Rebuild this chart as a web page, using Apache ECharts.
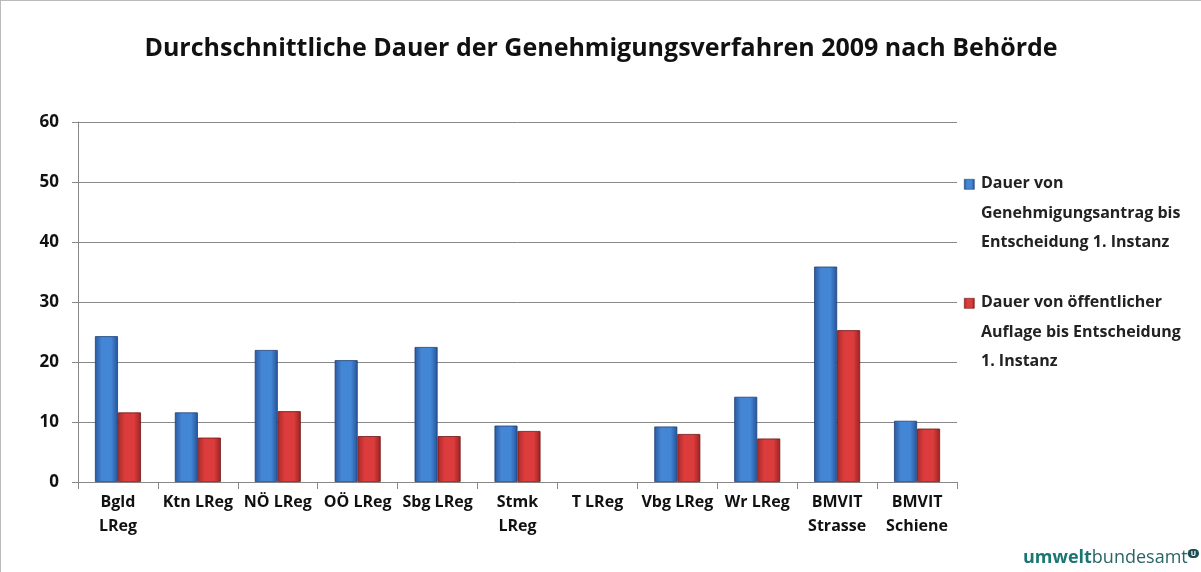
<!DOCTYPE html>
<html>
<head>
<meta charset="utf-8">
<script src="https://cdn.jsdelivr.net/npm/echarts@6/dist/echarts.min.js"></script>
<style>
  html, body { margin: 0; padding: 0; background: #fff; }
  #chart { width: 1201px; height: 572px; box-sizing: border-box; border-top: 1px solid #bbb; border-left: 1px solid #bbb; }
</style>
</head>
<body>
<div id="chart"></div>
<script>
// categories (Behörden)
var behoerden = ['Bgld\nLReg', 'Ktn LReg', 'NÖ LReg', 'OÖ LReg', 'Sbg LReg', 'Stmk\nLReg',
  'T LReg', 'Vbg LReg', 'Wr LReg', 'BMVIT\nStrasse', 'BMVIT\nSchiene'];
// Dauer von Genehmigungsantrag bis Entscheidung 1. Instanz
var dauerAntrag = [24.3, 11.6, 22.0, 20.3, 22.5, 9.4, null, 9.25, 14.2, 35.9, 10.2];
// Dauer von öffentlicher Auflage bis Entscheidung 1. Instanz
var dauerAuflage = [11.6, 7.4, 11.8, 7.65, 7.65, 8.5, null, 8.0, 7.25, 25.3, 8.9];
var seriesNames = ['Dauer von Genehmigungsantrag bis Entscheidung 1. Instanz',
  'Dauer von öffentlicher Auflage bis Entscheidung 1. Instanz'];
var legendText = ['Dauer von\nGenehmigungsantrag bis\nEntscheidung 1. Instanz',
  'Dauer von öffentlicher\nAuflage bis Entscheidung\n1. Instanz'];

var FONT = 'Open Sans';
var chart = echarts.init(document.getElementById('chart'));

function barFill(edge, mid, edge2) {
  return new echarts.graphic.LinearGradient(0, 0, 1, 0, [
    { offset: 0, color: edge },
    { offset: 0.3, color: mid },
    { offset: 0.7, color: mid },
    { offset: 1, color: edge2 }
  ]);
}

var blueFill = barFill('#2a5a9e', '#4486d6', '#24539a');
var redFill = barFill('#a82a2a', '#dc3c3c', '#9c2222');

// legend drawn by hand so the swatch sits on the first text line
var legendItems = [];
[blueFill, redFill].forEach(function (fill, i) {
  var top = 168 + i * 119;
  legendItems.push({
    type: 'rect',
    left: 963, top: top + 10,
    shape: { width: 10, height: 10 },
    style: { fill: fill, stroke: i ? '#6e1818' : '#1e3f73', lineWidth: 0.6 }
  });
  legendItems.push({
    type: 'text',
    left: 980, top: top,
    style: {
      text: legendText[i],
      font: 'bold 16px "' + FONT + '"',
      fill: '#222',
      lineHeight: 29.5
    }
  });
});

chart.setOption({
  animation: false,
  textStyle: { fontFamily: FONT },
  title: {
    text: 'Durchschnittliche Dauer der Genehmigungsverfahren 2009 nach Behörde',
    left: 'center',
    top: 30,
    textStyle: { fontSize: 25, fontWeight: 'bold', color: '#111', fontFamily: FONT }
  },
  grid: { left: 77, right: 244, top: 121, bottom: 90 },
  xAxis: {
    type: 'category',
    data: behoerden,
    axisLine: { lineStyle: { color: '#888' } },
    axisTick: { show: true, length: 7, lineStyle: { color: '#888' } },
    axisLabel: { interval: 0, margin: 8, fontSize: 16, fontWeight: 'bold', color: '#111', lineHeight: 24 }
  },
  yAxis: {
    type: 'value',
    min: 0,
    max: 60,
    interval: 10,
    axisLine: { show: true, lineStyle: { color: '#888' } },
    axisTick: { show: true, length: 6, lineStyle: { color: '#888' } },
    axisLabel: { margin: 19, fontSize: 17, fontWeight: 'bold', color: '#111' },
    splitLine: { lineStyle: { color: '#888', width: 1 } }
  },
  series: [
    {
      name: seriesNames[0],
      type: 'bar',
      data: dauerAntrag,
      barWidth: 23,
      barGap: '0%',
      itemStyle: { color: blueFill, borderColor: '#1e3f73', borderWidth: 0.8 }
    },
    {
      name: seriesNames[1],
      type: 'bar',
      data: dauerAuflage,
      barWidth: 23,
      barGap: '0%',
      itemStyle: { color: redFill, borderColor: '#6e1818', borderWidth: 0.8 }
    }
  ],
  graphic: legendItems.concat([
    {
      type: 'text',
      left: 1022,
      top: 548,
      style: {
        text: '{a|umwelt}{b|bundesamt}{c|U}',
        rich: {
          a: { fontSize: 18, fontWeight: 'bold', fill: '#1b7574', fontFamily: FONT },
          b: { fontSize: 18, fill: '#2a6466', fontFamily: FONT },
          c: { fontSize: 7, fontWeight: 'bold', fill: '#fff', backgroundColor: '#1d4f52',
               borderRadius: 6, padding: [1, 3, 1, 3], verticalAlign: 'top', fontFamily: FONT }
        }
      }
    }
  ])
});
</script>
</body>
</html>
